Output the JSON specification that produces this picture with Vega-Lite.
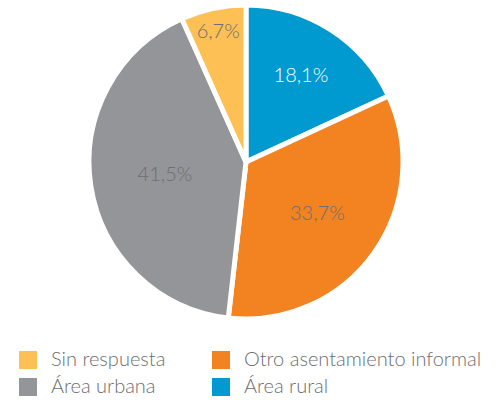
{
  "$schema": "https://vega.github.io/schema/vega-lite/v6.json",
  "width": 492,
  "height": 324,
  "padding": {"left": 0, "top": 0, "right": 7, "bottom": 76},
  "autosize": {"type": "none"},
  "background": "white",
  "data": {
    "values": [
      {"cat": "Área rural", "pct": 18.1, "label": "18,1%", "ord": 1},
      {"cat": "Otro asentamiento informal", "pct": 33.7, "label": "33,7%", "ord": 2},
      {"cat": "Área urbana", "pct": 41.5, "label": "41,5%", "ord": 3},
      {"cat": "Sin respuesta", "pct": 6.7, "label": "6,7%", "ord": 4}
    ]
  },
  "encoding": {
    "theta": {"field": "pct", "type": "quantitative", "stack": true},
    "order": {"field": "ord", "type": "quantitative"}
  },
  "layer": [
    {
      "mark": {"type": "arc", "outerRadius": 157, "stroke": "white", "strokeWidth": 5},
      "encoding": {
        "color": {
          "field": "cat",
          "type": "nominal",
          "scale": {
            "domain": ["Sin respuesta", "Área urbana", "Otro asentamiento informal", "Área rural"],
            "range": ["#fdc055", "#939598", "#f38321", "#009ad0"]
          },
          "legend": {
            "title": null,
            "orient": "none",
            "legendX": 18,
            "legendY": 350,
            "columns": 2,
            "columnPadding": 45,
            "rowPadding": 7,
            "symbolType": "square",
            "symbolSize": 324,
            "symbolStrokeWidth": 0,
            "symbolOffset": 0,
            "labelFont": "Lato",
            "labelFontWeight": 300,
            "labelFontSize": 20,
            "labelColor": "#6d6e71",
            "labelOffset": 13,
            "labelLimit": 400
          }
        }
      }
    },
    {
      "mark": {
        "type": "text",
        "font": "Lato",
        "fontWeight": 300,
        "fontSize": 20,
        "radius": {"expr": "datum.pct < 10 ? 133 : datum.pct > 40 ? 82 : datum.pct > 30 ? 88 : 102"}
      },
      "encoding": {
        "text": {"field": "label", "type": "nominal"},
        "color": {
          "field": "cat",
          "type": "nominal",
          "scale": {
            "domain": ["Sin respuesta", "Otro asentamiento informal", "Área urbana", "Área rural"],
            "range": ["#6d6e71", "#6d6e71", "#6d6e71", "#ffffff"]
          },
          "legend": null
        }
      }
    }
  ],
  "resolve": {"scale": {"color": "independent"}},
  "config": {"view": {"stroke": null}}
}
